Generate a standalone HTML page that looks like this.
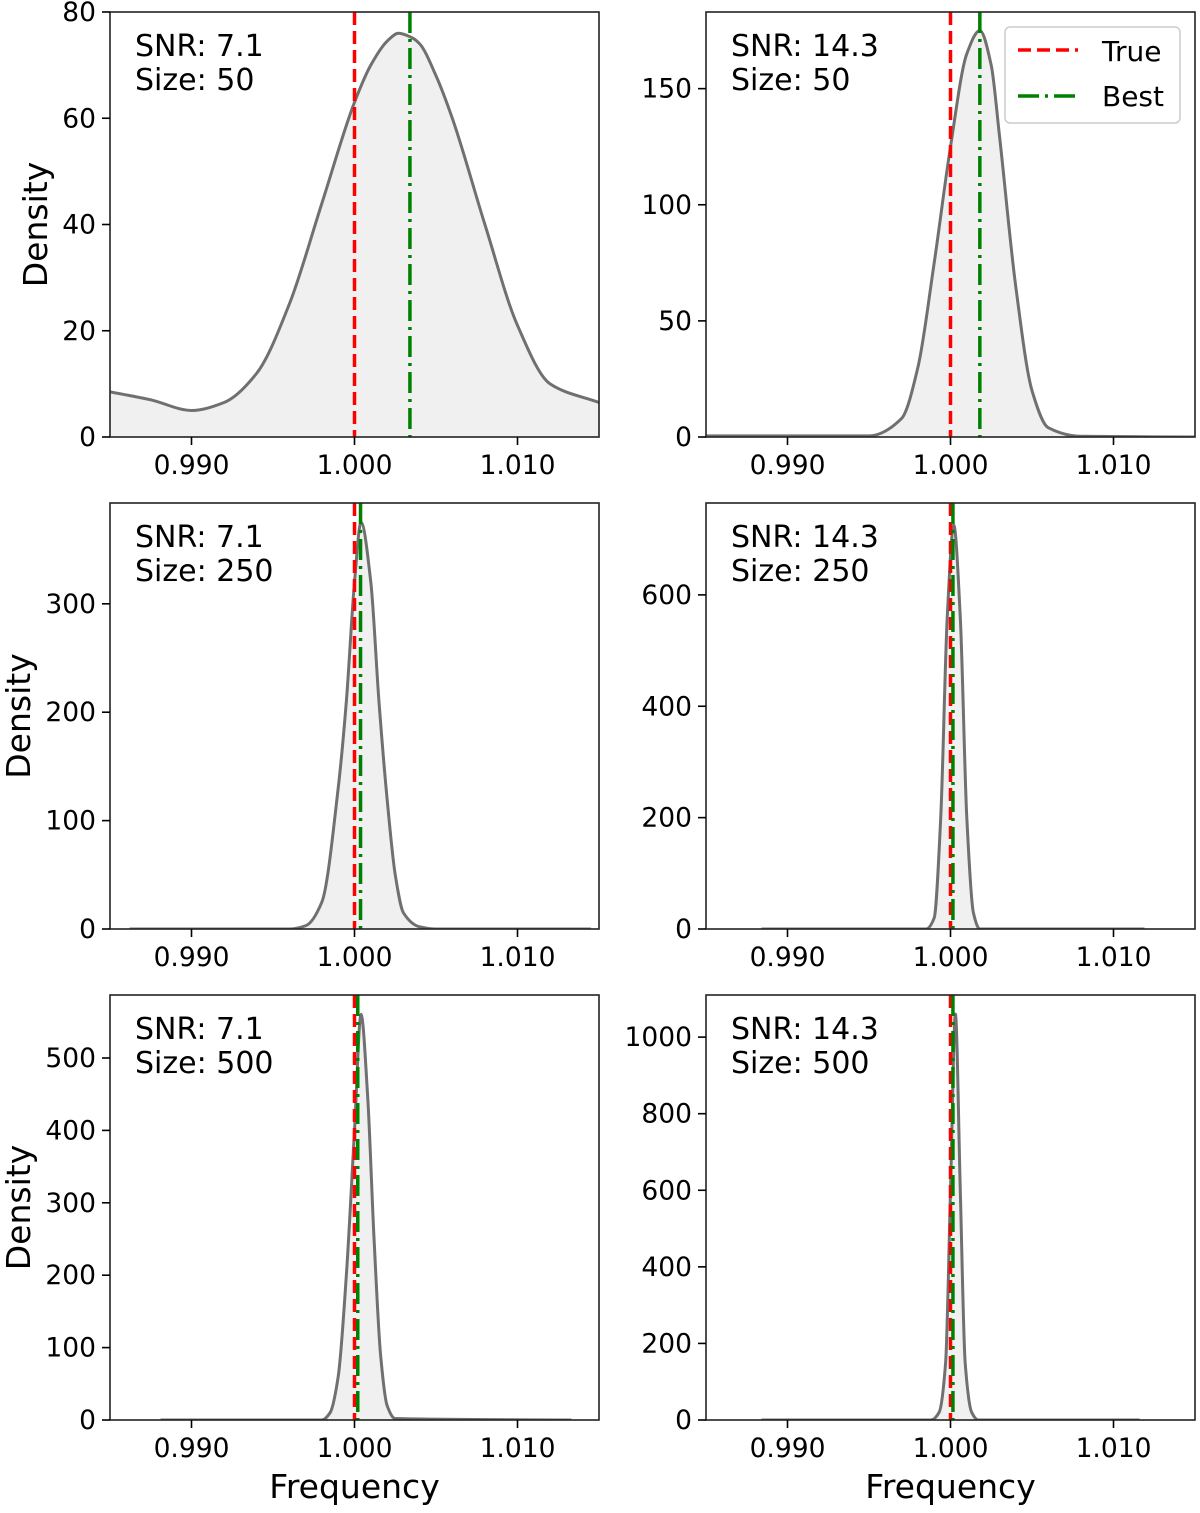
<!DOCTYPE html>
<html><head><meta charset="utf-8"><style>
body{margin:0;background:#fff;}
svg text{font-family:"DejaVu Sans","Liberation Sans",sans-serif;fill:#000;}
</style></head><body>
<svg id="fig" width="1200" height="1508" viewBox="0 0 1200 1508" xmlns="http://www.w3.org/2000/svg"></svg>
<script>
// Data per panel
const xTicks = [0.990, 1.000, 1.010];
const xTickLabels = ["0.990", "1.000", "1.010"];
const trueValue = 1.000;

const p1x = [0.985,0.9875,0.990,0.992,0.994,0.996,0.998,1.000,1.001,1.002,1.0027,1.0035,1.004,1.005,1.006,1.008,1.010,1.012,1.015];
const p1y = [8.5,7,5,6.5,12,25,44,63,70,74.5,76,75.2,74,68,60,40,21,10,6.5];
const p2x = [0.985,0.990,0.995,0.997,0.998,0.999,1.000,1.001,1.0018,1.0025,1.003,1.004,1.005,1.006,1.008,1.015];
const p2y = [0.5,0.5,0.5,8,30,75,125,165,175,160,130,65,20,4,0.3,0];
const p3x = [0.9862,0.996,0.997,0.998,0.999,0.9995,1.000,1.0004,1.001,1.0015,1.002,1.0025,1.003,1.004,1.005,1.0145];
const p3y = [0,0,3,25,130,210,320,375,320,210,120,50,15,2,0,0];
const p4x = [0.9884,0.9985,0.9990,0.9994,0.9998,1.0002,1.0006,1.0010,1.0014,1.0018,1.0119];
const p4y = [0,0,20,200,560,725,560,200,30,0,0];
const p5x = [0.9881,0.998,0.9985,0.999,0.9995,1.000,1.0004,1.0008,1.0012,1.0016,1.002,1.0025,1.0133];
const p5y = [0,0,10,60,200,400,560,450,250,90,20,2,0];
const p6x = [0.9884,0.9988,0.9993,0.9997,1.0000,1.0003,1.0006,1.0009,1.0013,1.0017,1.0116];
const p6y = [0,0,20,150,600,1060,600,150,20,0,0];

const yTicks1 = [0,20,40,60,80], yTicks2=[0,50,100,150], yTicks3=[0,100,200,300],
      yTicks4=[0,200,400,600], yTicks5=[0,100,200,300,400,500], yTicks6=[0,200,400,600,800,1000];
const yMax = [80,183,393,765,587,1110];
const snr = ["7.1","14.3","7.1","14.3","7.1","14.3"];
const sizes = ["50","50","250","250","500","500"];
const bestValues = [1.0034,1.0018,1.00037,1.00015,1.0002,1.00015];

const panels = [
 {x:p1x,y:p1y,ticks:yTicks1,L:110,T:12,B:437},
 {x:p2x,y:p2y,ticks:yTicks2,L:706,T:12,B:437},
 {x:p3x,y:p3y,ticks:yTicks3,L:110,T:503,B:929},
 {x:p4x,y:p4y,ticks:yTicks4,L:706,T:503,B:929},
 {x:p5x,y:p5y,ticks:yTicks5,L:110,T:995,B:1420},
 {x:p6x,y:p6y,ticks:yTicks6,L:706,T:995,B:1420}
];
const NS="http://www.w3.org/2000/svg";
const svg=document.getElementById('fig');
function mk(tag,attrs,parent){const e=document.createElementNS(NS,tag);for(const k in attrs)e.setAttribute(k,attrs[k]);(parent||svg).appendChild(e);return e;}

function monoPath(pts){
  const n=pts.length, dx=[], m=[], t=new Array(n);
  for(let i=0;i<n-1;i++){dx[i]=pts[i+1][0]-pts[i][0];m[i]=(pts[i+1][1]-pts[i][1])/dx[i];}
  t[0]=m[0];t[n-1]=m[n-2];
  for(let i=1;i<n-1;i++){
    if(m[i-1]*m[i]<=0)t[i]=0;
    else{const w1=2*dx[i]+dx[i-1],w2=dx[i]+2*dx[i-1];t[i]=(w1+w2)/(w1/m[i-1]+w2/m[i]);}
  }
  let d=`M${pts[0][0]},${pts[0][1]}`;
  for(let i=0;i<n-1;i++){
    const h=dx[i]/3;
    d+=` C${pts[i][0]+h},${pts[i][1]+t[i]*h} ${pts[i+1][0]-h},${pts[i+1][1]-t[i+1]*h} ${pts[i+1][0]},${pts[i+1][1]}`;
  }
  return d;
}

panels.forEach((p,i)=>{
  const W=489;
  const xs=v=>p.L+(v-0.985)/0.030*W;
  const ys=v=>p.B-v/yMax[i]*(p.B-p.T);
  const g=mk('g',{});
  
  
  const clipId='c'+i;
  const cp=mk('clipPath',{id:clipId},g);mk('rect',{x:p.L,y:p.T,width:W,height:p.B-p.T},cp);
  const pts=p.x.map((v,k)=>[xs(v),ys(p.y[k])]);
  const d=monoPath(pts);
  const area=mk('path',{d:d+` L${pts[pts.length-1][0]},${p.B} L${pts[0][0]},${p.B} Z`,fill:'#f0f0f0','clip-path':`url(#${clipId})`},g);
  
  
  const line=mk('path',{d:d,fill:'none',stroke:'#707070','stroke-width':3,'clip-path':`url(#${clipId})`},g);
  
  
  const tl=mk('line',{x1:xs(trueValue),x2:xs(trueValue),y1:p.T,y2:p.B,stroke:'#ff0000','stroke-width':3.5,'stroke-dasharray':'13,6'},g);
  
  
  const bl=mk('line',{x1:xs(bestValues[i]),x2:xs(bestValues[i]),y1:p.T,y2:p.B,stroke:'#008000','stroke-width':3.5,'stroke-dasharray':'21,6,3,6'},g);
  
  
  const fr=mk('rect',{x:p.L,y:p.T,width:W,height:p.B-p.T,fill:'none',stroke:'#222','stroke-width':1.6},g);
  
  
  xTicks.forEach((t,k)=>{
    mk('line',{x1:xs(t),x2:xs(t),y1:p.B,y2:p.B+8,stroke:'#000','stroke-width':1.6},g);
    const tx=mk('text',{x:xs(t),y:p.B+37,'font-size':26.5,'text-anchor':'middle'},g);
    tx.textContent=xTickLabels[k];
    
    
  });
  p.ticks.forEach(t=>{
    mk('line',{x1:p.L-8,x2:p.L,y1:ys(t),y2:ys(t),stroke:'#000','stroke-width':1.6},g);
    const tx=mk('text',{x:p.L-14,y:ys(t)+9,'font-size':26.5,'text-anchor':'end'},g);
    tx.textContent=String(t);
    
    
  });
  const a=mk('text',{x:p.L+25,y:p.T+44,'font-size':30},g);a.textContent='SNR: '+snr[i];
  
  
  const b=mk('text',{x:p.L+25,y:p.T+78,'font-size':30},g);b.textContent='Size: '+sizes[i];
  
  
  if(i%2===0){
    const yl=mk('text',{x:0,y:0,'font-size':33,'text-anchor':'middle',transform:`translate(${i===0?47:30},${(p.T+p.B)/2}) rotate(-90)`},g);
    yl.textContent='Density';
    
    
  }
  if(i>=4){
    const xl=mk('text',{x:p.L+W/2,y:1498,'font-size':33,'text-anchor':'middle'},g);
    xl.textContent='Frequency';
    
    
  }
});
const lg=mk('g',{});


mk('rect',{x:1005,y:27,width:175,height:96,rx:5,fill:'#fff','fill-opacity':0.85,stroke:'#ccc','stroke-width':1.5},lg);
mk('line',{x1:1018,x2:1078,y1:50,y2:50,stroke:'#ff0000','stroke-width':3.5,'stroke-dasharray':'13,6'},lg);
mk('line',{x1:1018,x2:1078,y1:96,y2:96,stroke:'#008000','stroke-width':3.5,'stroke-dasharray':'21,6,3,6'},lg);
const t1=mk('text',{x:1102,y:61,'font-size':28},lg);t1.textContent='True';


const t2=mk('text',{x:1102,y:106,'font-size':28},lg);t2.textContent='Best';


</script>
</body></html>
